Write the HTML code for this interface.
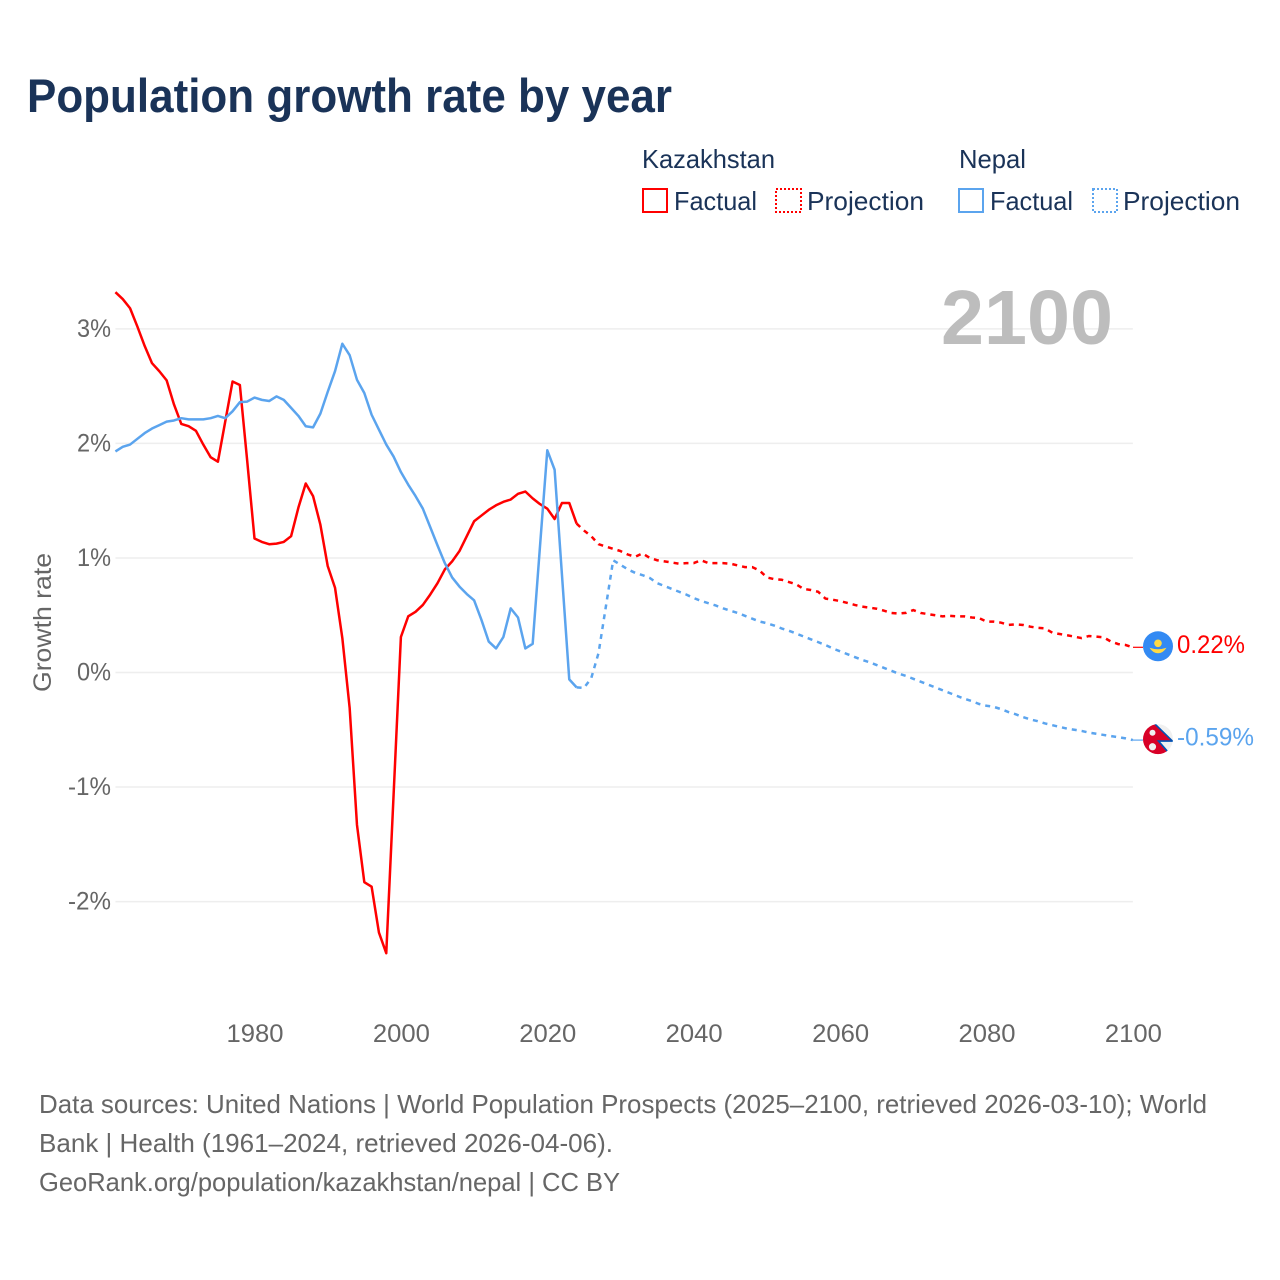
<!DOCTYPE html>
<html lang="en">
<head>
<meta charset="utf-8">
<title>Population growth rate by year</title>
<style>
html,body{margin:0;padding:0;background:#fff;}
svg{display:block;font-family:"Liberation Sans",sans-serif;}
</style>
</head>
<body>
<svg id="chart" xmlns="http://www.w3.org/2000/svg" width="1280" height="1280" viewBox="0 0 1280 1280">
  <rect width="1280" height="1280" fill="#fff"/>
  <text x="27" y="112" font-size="47" font-weight="bold" fill="#1a3358" textLength="645" lengthAdjust="spacingAndGlyphs">Population growth rate by year</text>

  <g font-size="26" fill="#1a3358">
    <text x="642" y="168" textLength="133" lengthAdjust="spacingAndGlyphs">Kazakhstan</text>
    <text x="959" y="168" textLength="67" lengthAdjust="spacingAndGlyphs">Nepal</text>
    <g>
      <rect x="643" y="189" width="24" height="23" fill="none" stroke="#ff0000" stroke-width="2"/>
      <text x="674" y="210" textLength="83" lengthAdjust="spacingAndGlyphs">Factual</text>
    </g>
    <g>
      <rect x="776" y="189" width="25" height="23" fill="none" stroke="#ff0000" stroke-width="2" stroke-dasharray="2 2"/>
      <text x="807" y="210" textLength="117" lengthAdjust="spacingAndGlyphs">Projection</text>
    </g>
    <g>
      <rect x="959" y="189" width="24" height="23" fill="none" stroke="#5ba4ee" stroke-width="2"/>
      <text x="990" y="210" textLength="83" lengthAdjust="spacingAndGlyphs">Factual</text>
    </g>
    <g>
      <rect x="1093" y="189" width="24" height="23" fill="none" stroke="#5ba4ee" stroke-width="2" stroke-dasharray="2 2"/>
      <text x="1123" y="210" textLength="117" lengthAdjust="spacingAndGlyphs">Projection</text>
    </g>
  </g>

  <g id="grid"></g>
  <g id="yticks" font-size="25" fill="#666"></g>
  <g id="xticks" font-size="25" fill="#666"></g>
  <text transform="translate(51,692) rotate(-90)" font-size="25" fill="#666" textLength="139" lengthAdjust="spacingAndGlyphs">Growth rate</text>
  <text x="941" y="344" font-size="77" font-weight="bold" fill="#bdbdbd" textLength="172" lengthAdjust="spacingAndGlyphs">2100</text>

  <g id="series"></g>

  <g id="flag-kz">
    <circle r="15" fill="#338af3"/>
    <circle cy="-3" r="3.8" fill="#ffda44"/>
    <path d="M-8.5 1.5Q-4 3 0 3Q4 3 8.5 1.5Q5 7 0 7Q-5 7 -8.5 1.5Z" fill="#ffda44"/>
  </g>
  <clipPath id="nepal-clip"><circle r="15"/></clipPath>
  <g id="flag-np">
    <g clip-path="url(#nepal-clip)">
      <circle r="15" fill="#f0f0f0"/>
      <path d="M-16 -16L-3 -16L14.5 2L0.5 2L10.5 13.5L6 16L-16 16Z" fill="#d80027"/>
      <path d="M-3.5 -15.5L14.5 2L0.5 2L10.5 13.5" fill="none" stroke="#0052b4" stroke-width="1.6"/>
      <circle cx="-5.5" cy="-6.3" r="3" fill="#f0f0f0"/>
      <circle cx="-5.5" cy="7.7" r="3.6" fill="#f0f0f0"/>
    </g>
  </g>
  <text id="label-kz" x="1177" font-size="25" fill="#ff0000" textLength="68" lengthAdjust="spacingAndGlyphs"></text>
  <text id="label-np" x="1177" font-size="25" fill="#5ba4ee" textLength="77" lengthAdjust="spacingAndGlyphs"></text>

  <g font-size="26" fill="#666">
    <text x="39" y="1113" textLength="1168" lengthAdjust="spacingAndGlyphs">Data sources: United Nations | World Population Prospects (2025–2100, retrieved 2026-03-10); World</text>
    <text x="39" y="1152" textLength="574" lengthAdjust="spacingAndGlyphs">Bank | Health (1961–2024, retrieved 2026-04-06).</text>
    <text x="39" y="1191" textLength="581" lengthAdjust="spacingAndGlyphs">GeoRank.org/population/kazakhstan/nepal | CC BY</text>
  </g>
</svg>
<script>
const xTickYears = [1980, 2000, 2020, 2040, 2060, 2080, 2100];
const yTickValues = [3, 2, 1, 0, -1, -2];
const factualStartYear = 1961;
const projectionStartYear = 2024;
const kazakhstanFactual = [
  3.32,3.26,3.18,3.02,2.85,2.70,2.63,2.55,2.34,2.17,
  2.15,2.11,1.99,1.88,1.84,2.19,2.54,2.51,1.85,1.17,
  1.14,1.12,1.125,1.14,1.19,1.44,1.65,1.54,1.29,0.93,
  0.74,0.30,-0.31,-1.33,-1.83,-1.87,-2.27,-2.45,-1.07,0.31,
  0.49,0.53,0.59,0.68,0.78,0.90,0.97,1.06,1.19,1.32,
  1.37,1.42,1.46,1.49,1.51,1.56,1.58,1.52,1.47,1.43,
  1.34,1.48,1.48,1.30
];
const nepalFactual = [
  1.93,1.97,1.99,2.04,2.09,2.13,2.16,2.19,2.20,2.22,
  2.21,2.21,2.21,2.22,2.24,2.22,2.28,2.36,2.365,2.40,
  2.38,2.37,2.41,2.38,2.31,2.24,2.15,2.14,2.26,2.45,
  2.63,2.87,2.77,2.555,2.44,2.25,2.12,1.99,1.885,1.75,
  1.64,1.54,1.43,1.27,1.11,0.955,0.83,0.75,0.685,0.63,
  0.46,0.27,0.21,0.31,0.56,0.48,0.21,0.25,1.10,1.94,
  1.77,0.855,-0.06,-0.13
];
const kazakhstanProjection = [
  1.30,1.24,1.19,1.12,1.10,1.08,1.06,1.03,1.01,1.04,
  1.00,0.98,0.97,0.96,0.95,0.955,0.955,0.98,0.955,0.955,
  0.955,0.95,0.935,0.92,0.92,0.89,0.83,0.815,0.81,0.79,
  0.77,0.73,0.72,0.705,0.645,0.635,0.624,0.607,0.59,0.575,
  0.566,0.557,0.54,0.52,0.515,0.52,0.545,0.52,0.51,0.50,
  0.49,0.495,0.49,0.49,0.48,0.475,0.445,0.444,0.435,0.415,
  0.42,0.415,0.40,0.39,0.385,0.347,0.336,0.325,0.313,0.30,
  0.319,0.313,0.307,0.27,0.248,0.24,0.22
];
const nepalProjection = [
  -0.13,-0.135,-0.05,0.17,0.575,0.98,0.94,0.90,0.87,0.85,
  0.825,0.78,0.755,0.73,0.705,0.68,0.65,0.625,0.605,0.585,
  0.56,0.54,0.52,0.495,0.47,0.445,0.43,0.41,0.385,0.365,
  0.34,0.315,0.29,0.265,0.24,0.21,0.185,0.16,0.135,0.11,
  0.09,0.065,0.04,0.015,-0.01,-0.03,-0.055,-0.08,-0.105,-0.13,
  -0.155,-0.18,-0.205,-0.23,-0.25,-0.275,-0.29,-0.30,-0.32,-0.345,
  -0.365,-0.39,-0.41,-0.425,-0.445,-0.46,-0.475,-0.49,-0.50,-0.51,
  -0.525,-0.535,-0.545,-0.555,-0.565,-0.575,-0.59
];

const NS = 'http://www.w3.org/2000/svg';
function xScale(year) { return 254.5 + (year - 1980) * 7.32; }
function yScale(value) { return 672.5 - value * 114.55; }

const gridGroup = document.getElementById('grid');
const yTickGroup = document.getElementById('yticks');
yTickValues.forEach(function (v) {
  const line = document.createElementNS(NS, 'line');
  
  
  line.setAttribute('x1', xScale(1961));
  line.setAttribute('x2', xScale(2100));
  line.setAttribute('y1', yScale(v));
  line.setAttribute('y2', yScale(v));
  line.setAttribute('stroke', '#eeeeee');
  line.setAttribute('stroke-width', '1.5');
  gridGroup.appendChild(line);

  const label = document.createElementNS(NS, 'text');
  const str = v + '%';
  
  
  label.setAttribute('x', 77 - (str.length - 2) * 9);
  label.setAttribute('y', yScale(v) + 8);
  label.setAttribute('textLength', 34 + (str.length - 2) * 9);
  label.setAttribute('lengthAdjust', 'spacingAndGlyphs');
  label.textContent = str;
  yTickGroup.appendChild(label);
});

const xTickGroup = document.getElementById('xticks');
xTickYears.forEach(function (year) {
  const label = document.createElementNS(NS, 'text');
  
  
  label.setAttribute('x', xScale(year) - 28);
  label.setAttribute('y', 1042);
  label.setAttribute('textLength', 57);
  label.setAttribute('lengthAdjust', 'spacingAndGlyphs');
  label.textContent = year;
  xTickGroup.appendChild(label);
});

function pathFrom(values, startYear) {
  return values.map(function (v, i) {
    return (i ? 'L' : 'M') + xScale(startYear + i).toFixed(2) + ' ' + yScale(v).toFixed(2);
  }).join('');
}

const seriesGroup = document.getElementById('series');

const kzProjectionPath = document.createElementNS(NS, 'path');


kzProjectionPath.setAttribute('d', pathFrom(kazakhstanProjection, projectionStartYear));
kzProjectionPath.setAttribute('fill', 'none');
kzProjectionPath.setAttribute('stroke', '#ff0000');
kzProjectionPath.setAttribute('stroke-width', '2.5');
kzProjectionPath.setAttribute('stroke-dasharray', '5 5');
seriesGroup.appendChild(kzProjectionPath);

const npProjectionPath = document.createElementNS(NS, 'path');


npProjectionPath.setAttribute('d', pathFrom(nepalProjection, projectionStartYear));
npProjectionPath.setAttribute('fill', 'none');
npProjectionPath.setAttribute('stroke', '#5ba4ee');
npProjectionPath.setAttribute('stroke-width', '2.5');
npProjectionPath.setAttribute('stroke-dasharray', '5 5');
seriesGroup.appendChild(npProjectionPath);

const kzFactualPath = document.createElementNS(NS, 'path');


kzFactualPath.setAttribute('d', pathFrom(kazakhstanFactual, factualStartYear));
kzFactualPath.setAttribute('fill', 'none');
kzFactualPath.setAttribute('stroke', '#ff0000');
kzFactualPath.setAttribute('stroke-width', '2.5');
kzFactualPath.setAttribute('stroke-linejoin', 'round');
seriesGroup.appendChild(kzFactualPath);

const npFactualPath = document.createElementNS(NS, 'path');


npFactualPath.setAttribute('d', pathFrom(nepalFactual, factualStartYear));
npFactualPath.setAttribute('fill', 'none');
npFactualPath.setAttribute('stroke', '#5ba4ee');
npFactualPath.setAttribute('stroke-width', '2.5');
npFactualPath.setAttribute('stroke-linejoin', 'round');
seriesGroup.appendChild(npFactualPath);

const kzEnd = kazakhstanProjection[kazakhstanProjection.length - 1];
const npEnd = nepalProjection[nepalProjection.length - 1];

const kzLeader = document.createElementNS(NS, 'line');


kzLeader.setAttribute('x1', 1133);
kzLeader.setAttribute('x2', 1143);
kzLeader.setAttribute('y1', yScale(kzEnd));
kzLeader.setAttribute('y2', yScale(kzEnd));
kzLeader.setAttribute('stroke', '#ff0000');
kzLeader.setAttribute('stroke-width', '1.2');
seriesGroup.appendChild(kzLeader);

const npLeader = document.createElementNS(NS, 'line');


npLeader.setAttribute('x1', 1133);
npLeader.setAttribute('x2', 1143);
npLeader.setAttribute('y1', yScale(npEnd));
npLeader.setAttribute('y2', yScale(npEnd));
npLeader.setAttribute('stroke', '#5ba4ee');
npLeader.setAttribute('stroke-width', '1.2');
seriesGroup.appendChild(npLeader);

document.getElementById('flag-kz').setAttribute('transform', 'translate(1158,' + (yScale(kzEnd) - 1) + ')');
document.getElementById('flag-np').setAttribute('transform', 'translate(1158,' + (yScale(npEnd) - 1) + ')');
const kzLabel = document.getElementById('label-kz');
kzLabel.setAttribute('y', yScale(kzEnd) + 5.5);
kzLabel.textContent = kzEnd.toFixed(2) + '%';
const npLabel = document.getElementById('label-np');
npLabel.setAttribute('y', yScale(npEnd) + 5.5);
npLabel.textContent = npEnd.toFixed(2) + '%';
</script>
</body>
</html>
